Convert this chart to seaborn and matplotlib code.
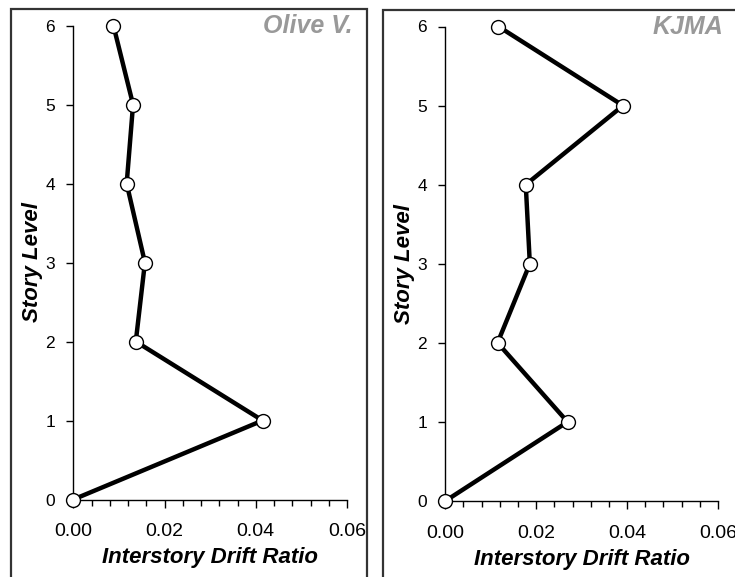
import numpy as np
import pandas as pd
import matplotlib
matplotlib.use("Agg")
import matplotlib.pyplot as plt
from matplotlib.patches import Rectangle
from matplotlib.ticker import MultipleLocator, FormatStrFormatter
import seaborn as sns

# Data
story_levels = [0, 1, 2, 3, 4, 5, 6]
olive_drift = [0.0, 0.0415, 0.0137, 0.0157, 0.0117, 0.0131, 0.0088]
kjma_drift = [0.0, 0.0269, 0.0115, 0.0186, 0.0177, 0.0391, 0.0117]
panel_titles = ["Olive V.", "KJMA"]
x_label = "Interstory Drift Ratio"
y_label = "Story Level"

sns.set_theme(style="ticks")
plt.rcParams['font.family'] = ['Liberation Sans', 'DejaVu Sans']
plt.rcParams['text.color'] = 'black'
plt.rcParams['axes.labelcolor'] = 'black'
plt.rcParams['xtick.color'] = 'black'
plt.rcParams['ytick.color'] = 'black'

W, H = 735, 577
fig = plt.figure(figsize=(W / 100, H / 100), dpi=100)

def fig_rect(x0, y_top, x1, y_bot):
    return [x0 / W, 1 - y_bot / H, (x1 - x0) / W, (y_bot - y_top) / H]

# outer frames
for (x0, y0, x1) in [(10.5, 8.5, 366.7), (382.7, 9.5, 760)]:
    fig.patches.append(Rectangle((x0 / W, -0.1), (x1 - x0) / W, 1.1 - y0 / H,
                                 transform=fig.transFigure, fill=False,
                                 edgecolor="#333333", linewidth=1.6, zorder=0))

axes_boxes = [fig_rect(73.3, 25.6, 347.0, 499.5), fig_rect(445.3, 26.5, 718.0, 501.0)]
datasets = [olive_drift, kjma_drift]

for box, drift, title in zip(axes_boxes, datasets, panel_titles):
    ax = fig.add_axes(box)
    ax.set_facecolor("none")
    df = pd.DataFrame({"drift": drift, "level": story_levels})
    sns.lineplot(data=df, x="drift", y="level", sort=False, ax=ax, color="black",
                 linewidth=3.2, marker="o", markersize=10, markerfacecolor="white",
                 markeredgecolor="black", markeredgewidth=1.0, clip_on=False, zorder=5)
    for ln in ax.lines:
        ln.set_clip_on(False)
    ax.set_xlim(0, 0.06)
    ax.set_ylim(0, 6)
    ax.xaxis.set_major_locator(MultipleLocator(0.02))
    ax.xaxis.set_minor_locator(MultipleLocator(0.004))
    ax.xaxis.set_major_formatter(FormatStrFormatter("%.2f"))
    ax.yaxis.set_major_locator(MultipleLocator(1))
    ax.tick_params(axis="x", which="major", length=6, width=1, pad=11, labelsize=14, colors="black")
    ax.tick_params(axis="x", which="minor", length=4, width=1, color="black")
    ax.tick_params(axis="y", which="major", length=5, width=1, pad=8, labelsize=12.5, colors="black")
    for s in ["top", "right"]:
        ax.spines[s].set_visible(False)
    for s in ["left", "bottom"]:
        ax.spines[s].set_color("black")
        ax.spines[s].set_linewidth(1.0)
    ax.set_xlabel(x_label, fontsize=16, fontweight="bold", fontstyle="italic", labelpad=5)
    ax.set_ylabel(y_label, fontsize=16, fontweight="bold", fontstyle="italic", labelpad=2)
    ax.text(1.02, 1.0, title, transform=ax.transAxes, ha="right", va="center",
            fontsize=18, fontweight="bold", fontstyle="italic", color="#999999")

fig.savefig("out.png", dpi=100)
